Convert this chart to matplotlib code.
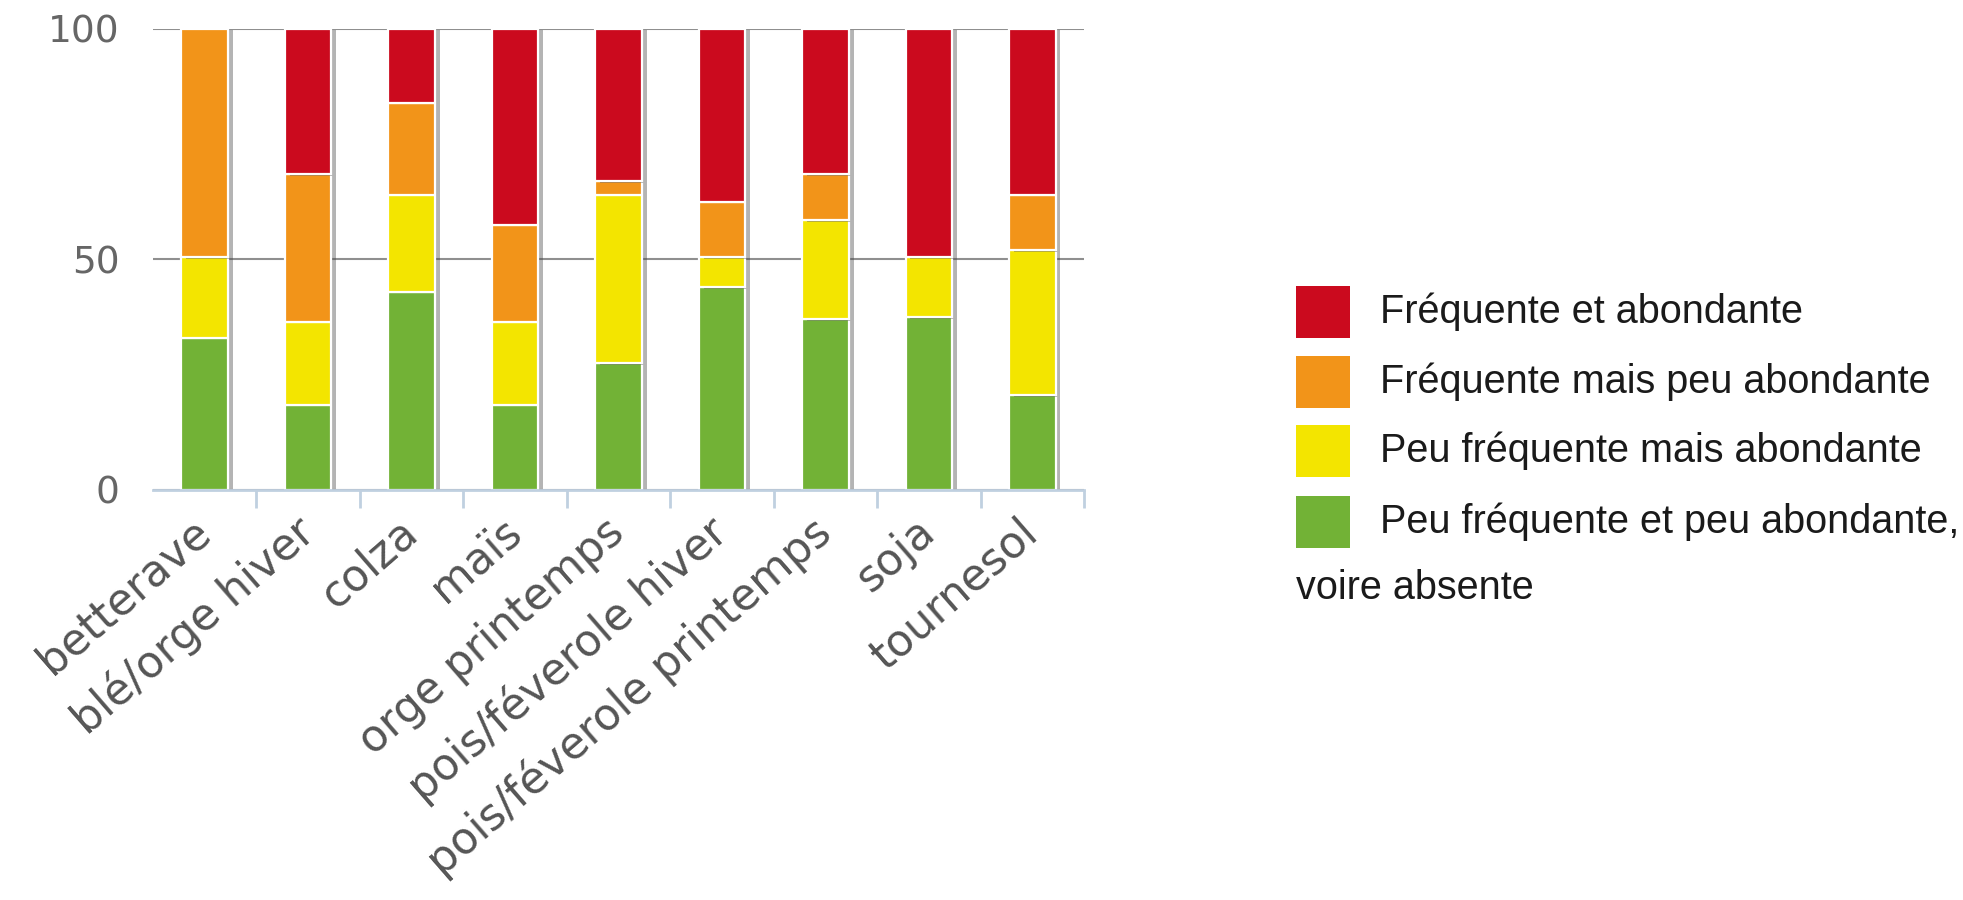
import matplotlib
matplotlib.use("Agg")
import matplotlib.pyplot as plt
import matplotlib.patheffects as pe
from matplotlib.patches import Rectangle
import numpy as np

categories = ["betterave", "blé/orge hiver", "colza", "maïs", "orge printemps",
              "pois/féverole hiver", "pois/féverole printemps", "soja", "tournesol"]

# stacked from bottom to top
peu_freq_peu_abond = [33, 18.5, 43, 18.5, 27.5, 44, 37, 37.5, 20.5]   # green
peu_freq_abond     = [17.5, 18, 21, 18, 36.5, 6.5, 21.5, 13, 31.5]    # yellow
freq_peu_abond     = [49.5, 32, 20, 21, 3, 12, 10, 0, 12]              # orange
freq_abond         = [0, 31.5, 16, 42.5, 33, 37.5, 31.5, 49.5, 36]     # red

series_labels = ["Fréquente et abondante", "Fréquente mais peu abondante",
                 "Peu fréquente mais abondante", "Peu fréquente et peu abondante,"]
legend_extra = "voire absente"
yticks = [0, 50, 100]

c_red, c_orange, c_yellow, c_green = "#CB0A1E", "#F29419", "#F3E500", "#72B236"

fig = plt.figure(figsize=(19.63, 9.0), dpi=100)
W, H = 1963, 900
ax = fig.add_axes([153 / W, 1 - 490 / H, (1084 - 153) / W, (490 - 29) / H])

x = np.arange(len(categories))
stack = [(peu_freq_peu_abond, c_green), (peu_freq_abond, c_yellow),
         (freq_peu_abond, c_orange), (freq_abond, c_red)]
bottom = np.zeros(len(categories))
shadow = [pe.SimplePatchShadow(offset=(3.5, -1), shadow_rgbFace="#444444", alpha=0.4), pe.Normal()]
for vals, col in stack:
    v = np.array(vals, dtype=float)
    bars = ax.bar(x, v, 0.45, bottom=bottom, color=col, edgecolor="white",
                  linewidth=1.6, zorder=3)
    for b, val in zip(bars, v):
        if val > 0:
            b.set_path_effects(shadow)
        else:
            b.set_visible(False)
    bottom += v

ax.set_xlim(-0.5, len(categories) - 0.5)
ax.set_ylim(0, 100)

for s in ["top", "left", "right"]:
    ax.spines[s].set_visible(False)
ax.spines["bottom"].set_color("#C0D0E0")
ax.spines["bottom"].set_linewidth(2)
ax.spines["bottom"].set_zorder(4)

ax.set_yticks(yticks)
ax.set_yticklabels([str(t) for t in yticks])
ax.tick_params(axis="y", length=0, pad=24, labelsize=27, labelcolor="#666666")
ax.yaxis.grid(True, color="#8f8f8f", linewidth=1.5, zorder=0)
ax.set_axisbelow(True)

ax.set_xticks(x)
ax.set_xticklabels(categories, rotation=41, ha="right", rotation_mode="anchor",
                   va="center", fontsize=31.5, color="#555555", family="DejaVu Sans")
ax.tick_params(axis="x", which="major", length=0, pad=26)
ax.set_xticks(np.arange(0.5, len(categories), 1.0), minor=True)
ax.tick_params(axis="x", which="minor", length=13, width=2, color="#C0D0E0", direction="out")

# legend
leg_cols = [c_red, c_orange, c_yellow, c_green]
row_y = [312, 382, 451, 522]
for lab, col, yc in zip(series_labels, leg_cols, row_y):
    fig.patches.append(Rectangle((1296 / W, 1 - (yc + 26) / H), 54 / W, 52 / H,
                                 transform=fig.transFigure, facecolor=col, edgecolor="none"))
    fig.text(1380 / W, 1 - yc / H, lab, fontsize=28.5, family="Liberation Sans",
             color="#1a1a1a", va="center", ha="left")
fig.text(1296 / W, 1 - 588 / H, legend_extra, fontsize=28.5, family="Liberation Sans",
         color="#1a1a1a", va="center", ha="left")

fig.savefig("out.png", dpi=100, facecolor="white")
